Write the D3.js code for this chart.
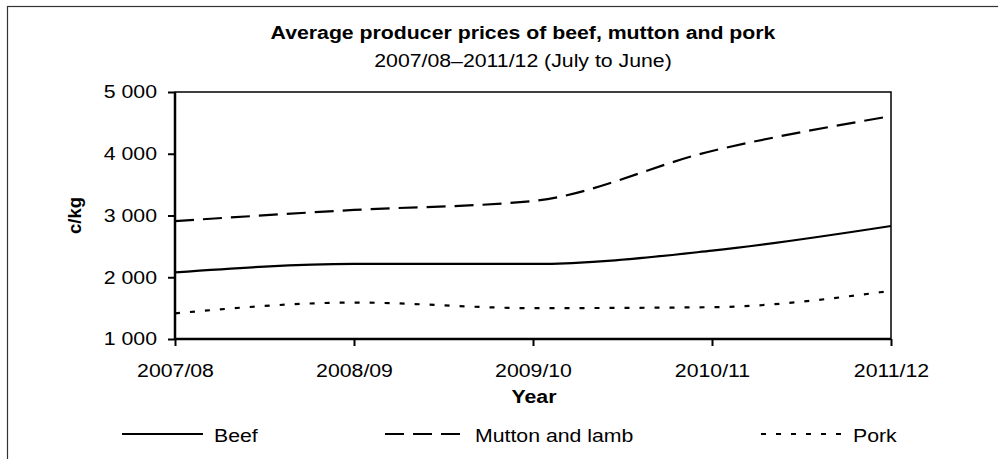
<!DOCTYPE html>
<html>
<head>
<meta charset="utf-8">
<script src="https://cdn.jsdelivr.net/npm/d3@7"></script>
<style>
  body { margin: 0; background: #fff; }
  text { font-family: Arial, "Liberation Sans", sans-serif; fill: #000; }
</style>
</head>
<body>
<div id="chart"></div>
<script>
const years = ["2007/08", "2008/09", "2009/10", "2010/11", "2011/12"];
const beef = [2080, 2215, 2215, 2430, 2830];
const mutton = [2910, 3090, 3235, 4045, 4610];
const pork = [1415, 1590, 1500, 1515, 1780];
const yTicks = [1000, 2000, 3000, 4000, 5000];

const series = [
    { name: "Beef", values: beef, dash: null },
    { name: "Mutton and lamb", values: mutton, dash: "19,9" },
    { name: "Pork", values: pork, dash: "5,10" }
];

const width = 998, height = 459;
const margin = { top: 92, right: 107, bottom: 120, left: 175 };
const fontSize = "18.5px";
const sx = 1.15; // reference text is drawn a little wider than normal

const svg = d3.select("#chart").append("svg")
    .attr("width", width)
    .attr("height", height);

// widen a text horizontally, keeping its anchor point in place
function stretch(sel) {
    sel.each(function () {
        const t = d3.select(this);
        const x0 = +t.attr("x") || 0;
        t.attr("x", x0 / sx).attr("transform", `scale(${sx},1)`);
    });
}

// outer frame
svg.append("rect")
    .attr("x", 7.5).attr("y", 6.5)
    .attr("width", 1000).attr("height", 500)
    .attr("fill", "none")
    .attr("stroke", "#333")
    .attr("stroke-width", 1.2);

const x = d3.scalePoint()
    .domain(years)
    .range([margin.left, width - margin.right]);

const y = d3.scaleLinear()
    .domain([1000, 5000])
    .range([height - margin.bottom, margin.top]);

const fmt = d => d3.format(",")(d).replace(",", " ");

// titles
svg.append("text")
    .attr("x", 523).attr("y", 39.5)
    .attr("text-anchor", "middle")
    .style("font-size", fontSize)
    .style("font-weight", "bold")
    .text("Average producer prices of beef, mutton and pork")
    .call(stretch);

svg.append("text")
    .attr("x", 523).attr("y", 67.5)
    .attr("text-anchor", "middle")
    .style("font-size", fontSize)
    .text("2007/08\u20132011/12 (July to June)")
    .call(stretch);

// plot frame
svg.append("rect")
    .attr("x", margin.left).attr("y", margin.top)
    .attr("width", width - margin.right - margin.left)
    .attr("height", height - margin.bottom - margin.top)
    .attr("fill", "none")
    .attr("stroke", "#000")
    .attr("stroke-width", 1.5);

// axes
const yAxis = svg.append("g")
    .attr("transform", `translate(${margin.left},0)`)
    .call(d3.axisLeft(y).tickValues(yTicks).tickFormat(fmt).tickSize(7).tickPadding(11));

const xAxis = svg.append("g")
    .attr("transform", `translate(0,${height - margin.bottom})`)
    .call(d3.axisBottom(x).tickSize(7).tickPadding(18));

[yAxis, xAxis].forEach(a => {
    a.select(".domain").attr("stroke", "#000").attr("stroke-width", 2.5);
    a.selectAll(".tick line").attr("stroke", "#000").attr("stroke-width", 2);
    a.selectAll("text")
        .style("font-size", fontSize)
        .style("font-family", "Arial, 'Liberation Sans', sans-serif")
        .attr("fill", "#000")
        .call(stretch);
});
xAxis.select(".domain").attr("d", `M${margin.left},0H${width - margin.right}`);
yAxis.select(".domain").attr("d", `M0,${height - margin.bottom}V${margin.top}`);

// axis titles
svg.append("text")
    .attr("x", 534).attr("y", 403)
    .attr("text-anchor", "middle")
    .style("font-size", fontSize)
    .style("font-weight", "bold")
    .text("Year")
    .call(stretch);

svg.append("text")
    .attr("transform", `translate(81,${(margin.top + height - margin.bottom) / 2}) rotate(-90)`)
    .attr("text-anchor", "middle")
    .style("font-size", fontSize)
    .style("font-weight", "bold")
    .text("c/kg");

// lines
const line = d3.line()
    .x((d, i) => x(years[i]))
    .y(d => y(d))
    .curve(d3.curveMonotoneX);

svg.selectAll(".series")
    .data(series)
    .enter()
    .append("path")
    .attr("class", "series")
    .attr("d", d => line(d.values))
    .attr("fill", "none")
    .attr("stroke", "#000")
    .attr("stroke-width", 2.2)
    .attr("stroke-dasharray", d => d.dash);

// legend
const legendLine = [[122, 203], [385, 460], [761, 841]];
const legendText = [214, 475, 853];

const legend = svg.selectAll(".legend-item")
    .data(series)
    .enter()
    .append("g")
    .attr("class", "legend-item");

legend.append("line")
    .attr("x1", (d, i) => legendLine[i][0])
    .attr("x2", (d, i) => legendLine[i][1])
    .attr("y1", 434).attr("y2", 434)
    .attr("stroke", "#000")
    .attr("stroke-width", 2.2)
    .attr("stroke-dasharray", d => d.dash);

legend.append("text")
    .attr("x", (d, i) => legendText[i])
    .attr("y", 442)
    .style("font-size", fontSize)
    .text(d => d.name)
    .call(stretch);
</script>
</body>
</html>
